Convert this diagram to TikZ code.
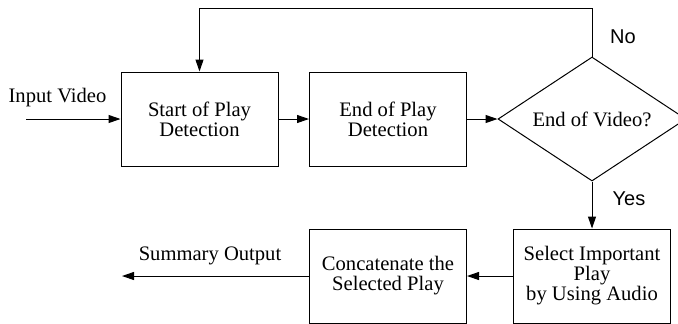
\documentclass[tikz,border=0pt]{standalone}
\usepackage{fontspec}
\setmainfont{Liberation Serif}
\newfontfamily\helv{Liberation Sans}
\usetikzlibrary{shapes.geometric,arrows.meta}

\begin{document}
\begin{tikzpicture}[x=0.5pt, y=-0.5pt, line width=0.5pt,
  every node/.style={font=\fontsize{10.3}{10}\selectfont, align=center},
  blk/.style={rectangle, draw=black, minimum width=78.5pt, minimum height=47pt, inner sep=0pt},
  test/.style={diamond, draw=black, aspect=1.5, minimum width=94pt, minimum height=62pt, inner sep=0pt},
  flow/.style={-{Triangle[length=6pt,width=4pt]}},
  yesno/.style={font=\helv\fontsize{10}{12}\selectfont}]
\useasboundingbox (0,0) rectangle (678,323);

\node (S) at (199.5, 119) [blk] {Start of Play\\Detection};
\node (E) at (388, 119) [blk] {End of Play\\Detection};
\node (V) at (592, 119) [test] {End of Video?};
\node (A) at (592, 276) [blk] {Select Important\\Play\\by Using Audio};
\node (C) at (388, 276) [blk] {Concatenate the\\Selected Play};

\coordinate (in) at (26, 119);
\coordinate (out) at (122, 276);
\coordinate (top) at (199.5, 8);
\node (inlbl) at (57.5, 98) {Input Video};
\node (outlbl) at (210, 256) {Summary Output};
\node (no) at (623, 37) [yesno] {No};
\node (yes) at (629, 199) [yesno] {Yes};

\draw[flow] (in) to (S);
\draw[flow] (S) to (E);
\draw[flow] (E) to (V);
\draw[flow] (V.north) |- (top) to (S.north);
\draw[flow] (V) to (A);
\draw[flow] (A) to (C);
\draw[flow] (C) to (out);
\end{tikzpicture}
\end{document}
